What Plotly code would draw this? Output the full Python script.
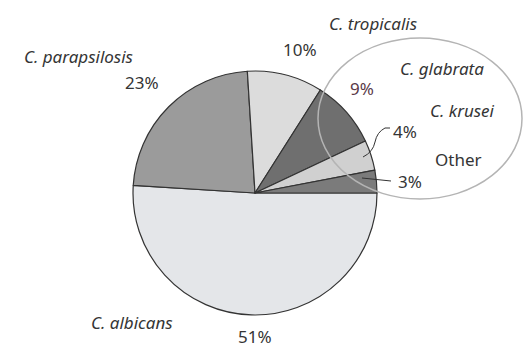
import plotly.graph_objects as go

# Species distribution of Candida isolates (percent)
species = ["C. albicans", "C. parapsilosis", "C. tropicalis", "C. glabrata", "C. krusei", "Other"]
percent = [51, 23, 10, 9, 4, 3]
slice_colors = ["#e4e6e9", "#9b9b9b", "#dcdcdc", "#6f6f6f", "#d0d0d0", "#7b7b7b"]

W, H = 523, 350
cx, cy, r = 255, 193, 122  # pie centre / radius in pixels

def px(x):
    return x / W

def py(y):
    return 1 - y / H

fig = go.Figure(go.Pie(
    labels=species,
    values=percent,
    sort=False,
    direction="clockwise",
    rotation=90,
    textinfo="none",
    hoverinfo="skip",
    marker=dict(colors=slice_colors, line=dict(color="#333333", width=1.2)),
    domain=dict(x=[px(cx - r), px(cx + r)], y=[py(cy + r), py(cy - r)]),
    showlegend=False,
))

font_name = "Noto Sans"
txt_color = "#353535"
fsize = 17

# label positions (pixel centres)
name_pos = {
    "C. albicans": (132, 322),
    "C. parapsilosis": (78, 57),
    "C. tropicalis": (373, 23),
    "C. glabrata": (442, 68),
    "C. krusei": (462, 110),
    "Other": (458, 160),
}
pct_pos = {
    "C. albicans": (255, 336),
    "C. parapsilosis": (142, 83),
    "C. tropicalis": (300, 50),
    "C. glabrata": (362, 88),
    "C. krusei": (405, 131),
    "Other": (410, 181),
}

annotations = []
for name, val in zip(species, percent):
    x, y = name_pos[name]
    label = name if name == "Other" else f"<i>{name}</i>"
    annotations.append(dict(
        x=px(x), y=py(y), xref="paper", yref="paper", text=label,
        showarrow=False, xanchor="center", yanchor="middle",
        font=dict(family=font_name, size=fsize, color=txt_color),
    ))
    x, y = pct_pos[name]
    annotations.append(dict(
        x=px(x), y=py(y), xref="paper", yref="paper", text=f"{val}%",
        showarrow=False, xanchor="center", yanchor="middle",
        font=dict(family=font_name, size=fsize,
                  color="#5a3a48" if name == "C. glabrata" else txt_color),
    ))

shapes = [
    # ellipse grouping the minor species
    dict(type="circle", xref="paper", yref="paper",
         x0=px(318), x1=px(522), y0=py(199), y1=py(38),
         line=dict(color="#b4b4b4", width=1.5), layer="above"),
    # leader lines
    dict(type="path", xref="paper", yref="paper",
         path=f"M {px(390)},{py(128)} L {px(385)},{py(128)} Q {px(377)},{py(132)} {px(375)},{py(142)} T {px(363)},{py(157)}",
         line=dict(color="#333333", width=1)),
    dict(type="line", xref="paper", yref="paper",
         x0=px(362), y0=py(178), x1=px(391), y1=py(181),
         line=dict(color="#333333", width=1)),
]

fig.update_layout(
    width=W, height=H,
    margin=dict(l=0, r=0, t=0, b=0),
    paper_bgcolor="white",
    plot_bgcolor="white",
    annotations=annotations,
    shapes=shapes,
)

fig.write_html("out.html")
